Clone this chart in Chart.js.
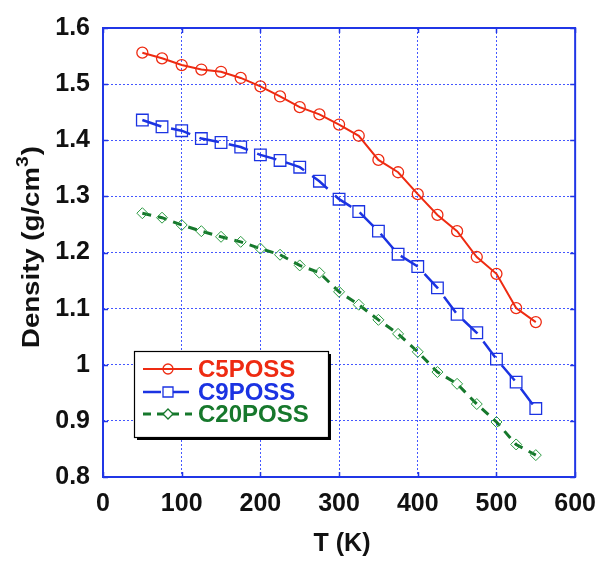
<!DOCTYPE html>
<html>
<head>
<meta charset="utf-8">
<script src="https://cdn.jsdelivr.net/npm/chart.js@4.4.1/dist/chart.umd.min.js"></script>
<style>
  html, body { margin: 0; padding: 0; background: #ffffff; }
  #wrap { width: 608px; height: 565px; position: relative; }
</style>
</head>
<body>
<div id="wrap"><canvas id="c" width="608" height="565"></canvas></div>
<script>
// Temperature grid (K) shared by all three series
const temperatures = [50, 75, 100, 125, 150, 175, 200, 225, 250, 275, 300,
                      325, 350, 375, 400, 425, 450, 475, 500, 525, 550];

// Density (g/cm^3) per POSS derivative
const c5poss  = [1.556, 1.546, 1.534, 1.526, 1.522, 1.511, 1.496, 1.478, 1.459, 1.446, 1.428,
                 1.408, 1.365, 1.343, 1.304, 1.267, 1.238, 1.192, 1.162, 1.101, 1.076];
const c9poss  = [1.436, 1.424, 1.417, 1.403, 1.396, 1.388, 1.374, 1.364, 1.352, 1.327, 1.295,
                 1.273, 1.238, 1.197, 1.175, 1.137, 1.090, 1.057, 1.010, 0.969, 0.922];
const c20poss = [1.270, 1.262, 1.249, 1.238, 1.228, 1.219, 1.207, 1.196, 1.177, 1.164, 1.130,
                 1.107, 1.080, 1.055, 1.023, 0.987, 0.966, 0.930, 0.898, 0.858, 0.839];

const seriesNames = ['C5POSS', 'C9POSS', 'C20POSS'];
const xTicks = [0, 100, 200, 300, 400, 500, 600];
const yTicks = [0.8, 0.9, 1.0, 1.1, 1.2, 1.3, 1.4, 1.5, 1.6];

const RED = '#ee2b12';
const BLUE = '#1b33e2';
const GREEN = '#16782c';
const FRAME = '#2036e6';
const GRID = '#4457ff';
const FONT = '"Liberation Sans", Arial, Helvetica, sans-serif';

const toPoints = vals => temperatures.map((t, i) => ({ x: t, y: vals[i] }));

// Frame, inward ticks, axis titles and the boxed legend
const decorations = {
  id: 'decorations',
  afterDraw(chart) {
    const { ctx, chartArea: a, scales: { x, y } } = chart;
    ctx.save();
    ctx.setLineDash([]);
    ctx.strokeStyle = FRAME;
    ctx.lineWidth = 2;
    ctx.strokeRect(a.left, a.top, a.right - a.left, a.bottom - a.top);

    const tl = 5;
    ctx.lineWidth = 1.5;
    ctx.beginPath();
    xTicks.forEach(v => {
      const px = Math.round(x.getPixelForValue(v)) + 0.5;
      ctx.moveTo(px, a.bottom); ctx.lineTo(px, a.bottom - tl);
      ctx.moveTo(px, a.top); ctx.lineTo(px, a.top + tl);
    });
    yTicks.forEach(v => {
      const py = Math.round(y.getPixelForValue(v)) + 0.5;
      ctx.moveTo(a.left, py); ctx.lineTo(a.left + tl, py);
      ctx.moveTo(a.right, py); ctx.lineTo(a.right - tl, py);
    });
    ctx.stroke();

    // x-axis title
    ctx.fillStyle = '#111';
    ctx.font = 'bold 25px ' + FONT;
    ctx.textAlign = 'center';
    ctx.textBaseline = 'alphabetic';
    ctx.fillText('T (K)', 342, 551);

    // y-axis title with superscript, drawn elongated along its run
    ctx.save();
    ctx.translate(38.5, 247);
    ctx.rotate(-Math.PI / 2);
    ctx.scale(1.2, 1);
    const main = 'Density (g/cm';
    const sup = '3';
    const close = ')';
    ctx.font = 'bold 23px ' + FONT;
    const wMain = ctx.measureText(main).width;
    const wClose = ctx.measureText(close).width;
    ctx.font = 'bold 16px ' + FONT;
    const wSup = ctx.measureText(sup).width;
    const total = wMain + wSup + wClose + 1;
    let cx = -total / 2;
    ctx.textAlign = 'left';
    ctx.font = 'bold 23px ' + FONT;
    ctx.fillText(main, cx, 0);
    cx += wMain;
    ctx.font = 'bold 16px ' + FONT;
    ctx.fillText(sup, cx, -11);
    cx += wSup + 1;
    ctx.font = 'bold 23px ' + FONT;
    ctx.fillText(close, cx, 0);
    ctx.restore();

    // legend box with drop shadow
    const bx = 134, by = 351, bw = 194, bh = 86;
    ctx.fillStyle = '#000';
    ctx.fillRect(bx + 3, by + 3, bw, bh);
    ctx.fillStyle = '#fff';
    ctx.fillRect(bx, by, bw, bh);
    ctx.strokeStyle = '#000';
    ctx.lineWidth = 1.2;
    ctx.strokeRect(bx + 0.5, by + 0.5, bw, bh);

    const rows = [
      { name: seriesNames[0], color: RED, y: 369, dash: [], lw: 2, shape: 'circle' },
      { name: seriesNames[1], color: BLUE, y: 392, dash: [18, 10], lw: 2.5, shape: 'square' },
      { name: seriesNames[2], color: GREEN, y: 414, dash: [8, 6], lw: 3, shape: 'diamond' }
    ];
    rows.forEach(r => {
      ctx.strokeStyle = r.color;
      ctx.lineWidth = r.lw;
      ctx.setLineDash(r.dash);
      ctx.beginPath();
      ctx.moveTo(143, r.y); ctx.lineTo(192, r.y);
      ctx.stroke();
      ctx.setLineDash([]);
      ctx.lineWidth = 1.3;
      ctx.fillStyle = '#fff';
      ctx.beginPath();
      if (r.shape === 'circle') {
        ctx.arc(168, r.y, 5, 0, Math.PI * 2);
      } else if (r.shape === 'square') {
        ctx.rect(163, r.y - 5, 10, 10);
      } else {
        ctx.moveTo(168, r.y - 5); ctx.lineTo(173, r.y); ctx.lineTo(168, r.y + 5); ctx.lineTo(163, r.y);
        ctx.closePath();
      }
      if (r.shape !== 'circle') ctx.fill();
      ctx.stroke();
      ctx.fillStyle = r.color;
      ctx.font = 'bold 24px ' + FONT;
      ctx.textAlign = 'left';
      ctx.textBaseline = 'middle';
      ctx.fillText(r.name, 198, r.y + 1);
    });
    ctx.restore();
  }
};

new Chart(document.getElementById('c'), {
  type: 'line',
  data: {
    datasets: [
      {
        label: seriesNames[0], data: toPoints(c5poss),
        borderColor: RED, borderWidth: 2, backgroundColor: 'transparent',
        pointStyle: 'circle', pointRadius: 5.5, pointBorderWidth: 1.3,
        pointBorderColor: RED, pointBackgroundColor: 'transparent', tension: 0
      },
      {
        label: seriesNames[1], data: toPoints(c9poss),
        borderColor: BLUE, borderWidth: 2.5, borderDash: [20, 10], backgroundColor: 'transparent',
        pointStyle: 'rect', pointRadius: 8.2, pointBorderWidth: 1.3,
        pointBorderColor: BLUE, pointBackgroundColor: 'transparent', tension: 0
      },
      {
        label: seriesNames[2], data: toPoints(c20poss),
        borderColor: GREEN, borderWidth: 3, borderDash: [9, 7], backgroundColor: 'transparent',
        pointStyle: 'rectRot', pointRadius: 5.5, pointBorderWidth: 1,
        pointBorderColor: '#2a9a40', pointBackgroundColor: 'transparent', tension: 0
      }
    ]
  },
  options: {
    responsive: false,
    animation: false,
    layout: { padding: { top: 21, right: 25, left: 0, bottom: 0 } },
    plugins: { legend: { display: false }, tooltip: { enabled: false } },
    scales: {
      x: {
        type: 'linear', min: 0, max: 600,
        afterFit(s) { s.height = 88; },
        afterBuildTicks(s) { s.ticks = xTicks.map(v => ({ value: v })); },
        grid: { color: GRID, lineWidth: 1, drawTicks: false },
        border: { display: false, dash: [2, 2] },
        ticks: { padding: 12, color: '#111', font: { family: FONT, size: 25, weight: 'bold' }, maxRotation: 0 }
      },
      y: {
        type: 'linear', min: 0.8, max: 1.6,
        afterFit(s) { s.width = 103; },
        afterBuildTicks(s) { s.ticks = yTicks.map(v => ({ value: v })); },
        grid: { color: GRID, lineWidth: 1, drawTicks: false },
        border: { display: false, dash: [2, 2] },
        ticks: {
          padding: 13, color: '#111', font: { family: FONT, size: 25, weight: 'bold' },
          callback: v => String(Math.round(v * 10) / 10)
        }
      }
    }
  },
  plugins: [decorations]
});
</script>
</body>
</html>
